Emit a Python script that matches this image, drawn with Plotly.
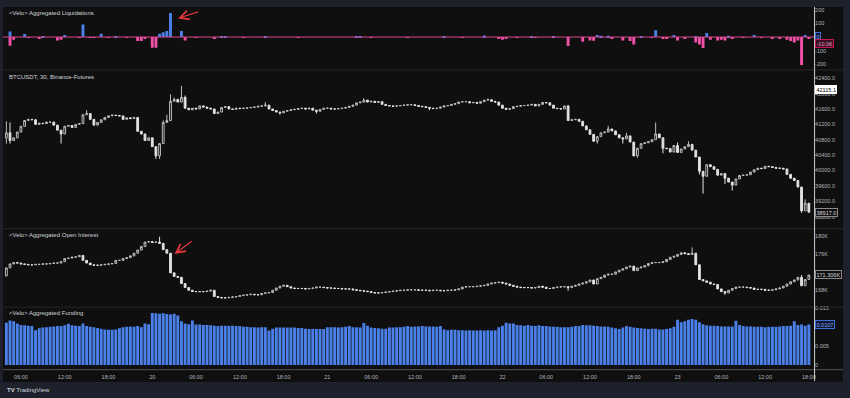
import pandas as pd
import plotly.graph_objects as go

W, H = 850, 398

# ---------------- data ----------------
times = pd.date_range("2024-01-19 04:00", periods=221, freq="30min")

price_close = [
    40980, 40780, 40850, 41000, 41150, 41300, 41330, 41320, 41200, 41230, 41220, 41260,
    41260, 41180, 41050, 40950, 41150, 41170, 41120, 41200, 41220, 41450, 41480, 41330,
    41180, 41250, 41320, 41380, 41420, 41440, 41430, 41420, 41330, 41370, 41350, 41380,
    41020, 40950, 40780, 40850, 40620, 40380, 40700, 41250, 41300, 41800, 41850, 41780,
    41900, 41620, 41580, 41620, 41600, 41680, 41650, 41620, 41600, 41480, 41520, 41640,
    41660, 41600, 41590, 41620, 41610, 41620, 41630, 41640, 41650, 41670, 41680, 41700,
    41600, 41560, 41520, 41500, 41540, 41560, 41580, 41590, 41610, 41620, 41600, 41620,
    41570, 41540, 41590, 41620, 41620, 41600, 41600, 41610, 41620, 41640, 41670, 41700,
    41760, 41780, 41830, 41780, 41800, 41770, 41790, 41720, 41690, 41680, 41670, 41680,
    41690, 41700, 41710, 41710, 41690, 41670, 41660, 41640, 41620, 41610, 41620, 41650,
    41680, 41690, 41720, 41740, 41780, 41790, 41790, 41760, 41770, 41750, 41790, 41830,
    41840, 41800, 41780, 41700, 41620, 41590, 41610, 41660, 41670, 41690, 41690, 41700,
    41720, 41680, 41720, 41770, 41760, 41700, 41620, 41610, 41600, 41680, 41300, 41320,
    41330, 41280, 41160, 41060, 40940, 40760, 40880, 40980, 41000, 41080, 41030, 40930,
    40850, 40820, 40900, 40740, 40380, 40580, 40700, 40720, 40750, 40800, 40950, 40850,
    40580, 40570, 40480, 40650, 40470, 40560, 40620, 40680, 40530, 40350, 39980, 39850,
    40150, 40100, 40030, 39880, 39920, 39800, 39700, 39620, 39780, 39870, 39880, 39890,
    39960, 40020, 40060, 40050, 40110, 40100, 40080, 40060, 40060, 40040, 39900, 39800,
    39740, 39570, 38950, 39150, 38917,
]
price_first_open = 40850
price_high_marks = {0: 41280, 1: 41250, 22: 41570, 43: 41300, 44: 41450, 45: 41980,
                    46: 41900, 48: 42200, 49: 41950, 71: 41780, 98: 41880, 132: 41870,
                    154: 41700, 165: 41160, 170: 40980, 178: 41250, 184: 40730,
                    187: 40760, 219: 39250}
price_low_marks = {0: 40700, 1: 40700, 15: 40700, 41: 40300, 42: 40300, 75: 41450,
                   85: 41480, 116: 41570, 162: 40700, 169: 40700, 173: 40330,
                   180: 40450, 185: 40480, 190: 39900, 191: 39400, 197: 39650,
                   199: 39480, 218: 38900}

oi_close = [
    172.9, 173.8, 174.1, 174.0, 173.8, 173.7, 173.6, 173.6, 173.7, 173.7, 173.8, 173.8,
    173.9, 174.0, 174.0, 174.3, 175.0, 175.1, 175.3, 175.4, 175.7, 174.6, 174.0, 173.6,
    173.5, 173.5, 173.6, 173.7, 173.8, 173.9, 174.6, 174.6, 175.0, 175.2, 175.6, 176.2,
    176.9, 177.7, 178.7, 178.8, 178.6, 178.7, 178.4, 177.0, 176.2, 171.8, 171.0, 170.8,
    169.4, 168.5, 167.9, 167.6, 167.6, 167.6, 167.6, 167.7, 167.9, 166.5, 166.3, 166.2,
    166.2, 166.3, 166.4, 166.5, 166.7, 166.8, 166.9, 167.0, 166.9, 166.9, 167.2, 167.3,
    167.4, 167.9, 168.4, 168.8, 169.0, 168.7, 168.4, 168.3, 168.3, 168.3, 168.2, 168.3,
    168.4, 168.6, 168.6, 168.5, 168.4, 168.4, 168.3, 168.3, 168.2, 168.2, 168.2, 168.0,
    167.9, 167.8, 167.7, 167.6, 167.4, 167.3, 167.3, 167.4, 167.5, 167.6, 167.7, 167.8,
    167.9, 167.9, 168.0, 168.0, 168.0, 167.9, 167.9, 167.9, 167.8, 167.9, 167.9, 167.8,
    167.8, 167.9, 167.9, 168.0, 168.2, 168.6, 168.7, 168.7, 168.7, 168.8, 168.9, 169.0,
    169.3, 169.5, 169.6, 169.7, 169.5, 169.3, 169.0, 168.8, 168.6, 168.5, 168.5, 168.5,
    168.4, 168.5, 168.8, 168.6, 168.3, 168.3, 168.5, 168.6, 168.7, 168.7, 168.5, 168.8,
    169.0, 169.3, 169.5, 169.8, 170.2, 169.3, 170.5, 170.8, 171.3, 171.5, 171.5, 172.0,
    172.4, 172.7, 173.1, 173.3, 172.3, 172.9, 173.1, 173.4, 173.9, 174.1, 174.1, 174.1,
    174.3, 174.8, 175.3, 175.5, 175.9, 176.3, 176.1, 175.9, 176.2, 173.6, 170.3, 170.0,
    169.7, 169.3, 169.2, 168.2, 167.6, 167.3, 167.9, 168.3, 168.6, 168.6, 168.6, 168.5,
    168.4, 168.1, 168.1, 168.1, 167.9, 167.9, 168.0, 168.2, 168.4, 168.8, 169.3, 169.8,
    170.2, 170.8, 168.9, 170.3, 171.306,
]
oi_first_open = 171.1
oi_high_marks = {42: 179.9, 188: 177.5, 218: 171.3}
oi_low_marks = {154: 167.8, 197: 166.9}

funding = [
    0.0112, 0.0118, 0.0116, 0.0110, 0.0106, 0.0105, 0.0104, 0.0103, 0.0092, 0.0097, 0.0099, 0.0100,
    0.0101, 0.0102, 0.0103, 0.0103, 0.0105, 0.0109, 0.0105, 0.0104, 0.0103, 0.0110, 0.0103, 0.0101,
    0.0100, 0.0098, 0.0096, 0.0094, 0.0093, 0.0093, 0.0094, 0.0097, 0.0100, 0.0101, 0.0102, 0.0101,
    0.0103, 0.0100, 0.0110, 0.0108, 0.0138, 0.0137, 0.0136, 0.0137, 0.0135, 0.0134, 0.0136, 0.0131,
    0.0116, 0.0110, 0.0108, 0.0118, 0.0107, 0.0107, 0.0106, 0.0106, 0.0105, 0.0104, 0.0103, 0.0104,
    0.0104, 0.0104, 0.0104, 0.0103, 0.0103, 0.0101, 0.0101, 0.0100, 0.0100, 0.0099, 0.0100, 0.0100,
    0.0091, 0.0096, 0.0099, 0.0099, 0.0099, 0.0099, 0.0099, 0.0099, 0.0098, 0.0098, 0.0096, 0.0095,
    0.0095, 0.0095, 0.0095, 0.0095, 0.0100, 0.0100, 0.0100, 0.0099, 0.0100, 0.0101, 0.0103, 0.0100,
    0.0100, 0.0099, 0.0111, 0.0104, 0.0099, 0.0098, 0.0097, 0.0096, 0.0096, 0.0099, 0.0099, 0.0100,
    0.0100, 0.0101, 0.0103, 0.0101, 0.0102, 0.0102, 0.0103, 0.0102, 0.0102, 0.0102, 0.0101, 0.0103,
    0.0094, 0.0092, 0.0093, 0.0093, 0.0092, 0.0092, 0.0091, 0.0092, 0.0091, 0.0091, 0.0092, 0.0091,
    0.0092, 0.0091, 0.0092, 0.0100, 0.0104, 0.0112, 0.0110, 0.0110, 0.0106, 0.0105, 0.0104, 0.0106,
    0.0104, 0.0103, 0.0105, 0.0103, 0.0103, 0.0102, 0.0101, 0.0101, 0.0100, 0.0100, 0.0100, 0.0101,
    0.0103, 0.0103, 0.0106, 0.0105, 0.0105, 0.0104, 0.0103, 0.0102, 0.0102, 0.0101, 0.0099, 0.0097,
    0.0095, 0.0099, 0.0103, 0.0101, 0.0099, 0.0098, 0.0097, 0.0096, 0.0095, 0.0096, 0.0096, 0.0094,
    0.0094, 0.0095, 0.0097, 0.0101, 0.0120, 0.0113, 0.0116, 0.0120, 0.0122, 0.0120, 0.0113, 0.0108,
    0.0105, 0.0104, 0.0104, 0.0103, 0.0102, 0.0102, 0.0102, 0.0102, 0.0117, 0.0106, 0.0103, 0.0102,
    0.0102, 0.0101, 0.0101, 0.0101, 0.0100, 0.0101, 0.0101, 0.0101, 0.0102, 0.0103, 0.0103, 0.0104,
    0.0116, 0.0106, 0.0107, 0.0104, 0.0107,
]

short_liq = [
    0, 40, 0, 0, 0, 22, 0, 0, 0, 0, 4, 0,
    0, 0, 0, 0, 15, 0, 0, 0, 0, 92, 0, 0,
    0, 0, 25, 0, 0, 0, 3, 0, 0, 0, 0, 0,
    0, 0, 0, 0, 0, 0, 25, 35, 45, 177, 0, 0,
    44, 0, 0, 0, 0, 0, 0, 0, 0, 0, 0, 8,
    3, 0, 0, 0, 0, 0, 0, 0, 0, 0, 0, 6,
    0, 0, 0, 0, 0, 0, 0, 0, 0, 0, 0, 0,
    0, 0, 0, 0, 0, 0, 0, 0, 0, 0, 0, 0,
    5, 4, 0, 0, 0, 0, 0, 0, 0, 0, 0, 0,
    0, 0, 0, 0, 0, 0, 0, 0, 0, 0, 0, 0,
    3, 0, 0, 0, 0, 0, 0, 0, 0, 0, 0, 12,
    0, 0, 0, 0, 0, 0, 0, 0, 0, 0, 0, 0,
    5, 0, 0, 0, 0, 0, 3, 0, 0, 0, 0, 0,
    0, 0, 0, 0, 0, 0, 15, 10, 0, 10, 0, 0,
    0, 0, 0, 0, 0, 0, 8, 0, 0, 0, 50, 0,
    0, 0, 0, 15, 0, 0, 0, 0, 0, 8, 0, 0,
    30, 0, 0, 0, 0, 0, 10, 0, 0, 0, 0, 0,
    0, 15, 0, 0, 0, 0, 0, 0, 0, 0, 0, 0,
    0, 0, 0, 15, 0,
]
long_liq = [
    0, -65, -20, 0, 0, 0, -5, 0, 0, -15, 0, 0,
    0, 0, -25, -20, 0, 0, 0, 0, -4, 0, 0, -5,
    -5, 0, 0, 0, -3, 0, 0, 0, 0, -6, 0, 0,
    -30, -30, -15, 0, -78, -78, 0, 0, 0, 0, 0, 0,
    0, -25, 0, 0, -4, 0, 0, 0, 0, -10, 0, 0,
    0, 0, 0, 0, 0, -3, 0, 0, 0, 0, 0, 0,
    0, 0, 0, 0, 0, 0, 0, 0, -3, 0, 0, 0,
    0, 0, 0, 0, 0, 0, 0, 0, 0, 0, 0, 0,
    0, 0, 0, 0, -3, 0, 0, 0, 0, 0, 0, 0,
    0, 0, -3, 0, 0, 0, 0, 0, 0, 0, 0, 0,
    0, 0, 0, 0, 0, -4, 0, 0, 0, 0, 0, 0,
    0, 0, 0, -15, -20, -15, 0, 0, -4, 0, 0, 0,
    0, -3, 0, 0, 0, 0, -5, 0, 0, 0, -66, 0,
    0, 0, -35, 0, -25, -28, 0, 0, 0, 0, -8, 0,
    0, -25, 0, -30, -55, 0, 0, 0, 0, -6, 0, 0,
    -12, -15, 0, 0, -25, 0, -8, 0, 0, -40, -55, -80,
    0, -20, 0, -25, -20, -25, 0, -15, 0, 0, -6, 0,
    0, 0, 0, -5, 0, 0, -8, 0, -10, 0, -20, -30,
    -40, -25, -205, 0, -10.06,
]

time_tickvals = pd.date_range("2024-01-19 06:00", "2024-01-23 18:00", freq="6h")
time_ticktext = ["06:00", "12:00", "18:00", "20", "06:00", "12:00", "18:00", "21",
                 "06:00", "12:00", "18:00", "22", "06:00", "12:00", "18:00", "23",
                 "06:00", "12:00", "18:00"]

liq_ticks = [200, 100, 0, -100, -200]
price_ticks = [42400, 42000, 41600, 41200, 40800, 40400, 40000, 39600, 39200, 38800]
oi_ticks = [180, 176, 168]
funding_ticks = [0.015, 0.005, 0]
funding_ticktext = ["0.015", "0.005", "0"]

titles = ["<Velo> Aggregated Liquidations", "BTCUSDT, 30, Binance-Futures",
          "<Velo> Aggregated Open Interest", "<Velo> Aggregated Funding"]


# ---------------- helpers ----------------
def X(px):
    return px / W


def Y(py):
    return 1 - py / H


def ohlc(closes, first_open, hi_marks, lo_marks):
    opens = [first_open] + closes[:-1]
    highs, lows = [], []
    for i, (o, c) in enumerate(zip(opens, closes)):
        highs.append(max(hi_marks.get(i, max(o, c)), o, c))
        lows.append(min(lo_marks.get(i, min(o, c)), o, c))
    return opens, highs, lows


p_open, p_high, p_low = ohlc(price_close, price_first_open, price_high_marks, price_low_marks)
o_open, o_high, o_low = ohlc(oi_close, oi_first_open, oi_high_marks, oi_low_marks)

BG = "#0f0f0f"
OUTER = "#1e212b"
TXT = "#b2b5be"
FONT = "Liberation Sans, Arial, sans-serif"
BLUE = "#4a80e8"
PINK = "#f050a8"

inc = dict(line=dict(color="#bdbdbd", width=1), fillcolor=BG)
dec = dict(line=dict(color="#e2e2e2", width=1), fillcolor="#e2e2e2")

fig = go.Figure()
fig.add_trace(go.Bar(x=times, y=short_liq, marker_color=BLUE, marker_line_width=0,
                     xaxis="x", yaxis="y", showlegend=False))
fig.add_trace(go.Bar(x=times, y=long_liq, marker_color=PINK, marker_line_width=0,
                     xaxis="x", yaxis="y", showlegend=False))
fig.add_trace(go.Candlestick(x=times, open=p_open, high=p_high, low=p_low, close=price_close,
                             increasing=inc, decreasing=dec, xaxis="x", yaxis="y2",
                             showlegend=False))
fig.add_trace(go.Candlestick(x=times, open=o_open, high=o_high, low=o_low, close=oi_close,
                             increasing=inc, decreasing=dec, xaxis="x", yaxis="y3",
                             showlegend=False))
fig.add_trace(go.Bar(x=times, y=funding, marker_color=BLUE, marker_line_width=0,
                     xaxis="x", yaxis="y4", showlegend=False))

yax_common = dict(side="right", anchor="x", showgrid=False, zeroline=False, showline=False,
                  ticks="", tickfont=dict(size=5.5, color=TXT, family=FONT), fixedrange=True)

fig.update_layout(
    width=W, height=H, autosize=False,
    margin=dict(l=0, r=0, t=0, b=0),
    paper_bgcolor=OUTER, plot_bgcolor="rgba(0,0,0,0)",
    barmode="overlay", bargap=0.2,
    font=dict(family=FONT, color=TXT, size=6),
    xaxis=dict(domain=[X(3), X(816)], anchor="y4", type="date",
               range=["2024-01-19 03:32:18", "2024-01-23 18:43:00"],
               showgrid=False, zeroline=False, showline=False, ticks="",
               tickmode="array", tickvals=list(time_tickvals), ticktext=time_ticktext,
               tickfont=dict(size=5.5, color=TXT, family=FONT), ticklabelstandoff=5,
               rangeslider=dict(visible=False), fixedrange=True),
    yaxis=dict(domain=[Y(68), Y(5)], range=[-238.7, 221.2], tickmode="array",
               tickvals=liq_ticks, ticktext=[str(v) for v in liq_ticks], **yax_common),
    yaxis2=dict(domain=[Y(228), Y(69)], range=[38498, 42601], tickmode="array",
                tickvals=price_ticks, ticktext=[f"{v:.1f}" for v in price_ticks], **yax_common),
    yaxis3=dict(domain=[Y(307), Y(229)], range=[164.22, 181.56], tickmode="array",
                tickvals=oi_ticks, ticktext=[f"{v}K" for v in oi_ticks], **yax_common),
    yaxis4=dict(domain=[Y(368), Y(308)], range=[-0.0006, 0.01518], tickmode="array",
                tickvals=funding_ticks, ticktext=funding_ticktext, **yax_common),
)

shapes = [
    dict(type="rect", xref="paper", yref="paper", x0=X(3), x1=X(845), y0=Y(383), y1=Y(5),
         fillcolor=BG, line_width=0, layer="below"),
]
for py in (68.5, 228.5, 307.5):
    shapes.append(dict(type="line", xref="paper", yref="paper", x0=X(3), x1=X(845),
                       y0=Y(py), y1=Y(py), line=dict(color="#262626", width=1)))
shapes.append(dict(type="line", xref="paper", yref="paper", x0=X(3), x1=X(845),
                   y0=Y(370.5), y1=Y(370.5), line=dict(color="#555555", width=1)))
shapes.append(dict(type="line", xref="paper", yref="y", x0=X(3), x1=X(816), y0=0, y1=0,
                   line=dict(color="#d9468f", width=1)))
shapes.append(dict(type="line", xref="paper", yref="paper", x0=X(816.5), x1=X(816.5),
                   y0=Y(382), y1=Y(5), line=dict(color="#cfcfcf", width=1)))
fig.update_layout(shapes=shapes)

ann = []
for t, py in zip(titles, (11, 76, 235, 313)):
    ann.append(dict(text=t.replace("<", "&lt;").replace(">", "&gt;"), xref="paper", yref="paper",
                    x=X(7), y=Y(py), xanchor="left", yanchor="middle", showarrow=False,
                    font=dict(size=6, color="#d1d4dc", family=FONT)))


def box(text, py, bg, border, color):
    return dict(text=text, xref="paper", yref="paper", x=X(817), y=Y(py), xanchor="left",
                yanchor="middle", showarrow=False, bgcolor=bg, bordercolor=border,
                borderwidth=1, borderpad=0.5, font=dict(size=5.5, color=color, family=FONT))


ann += [
    box("0", 34.5, "#0d1530", "#3d6fd6", "#8fb0ff"),
    box("-10.06", 42, "#3a0f22", "#c2185b", "#e8a0c0"),
    box("42115.1", 88.5, "#ffffff", "#ffffff", "#000000"),
    box("38917.0", 212, BG, "#8a8a8a", "#d8d8d8"),
    box("171.306K", 274.5, BG, "#8a8a8a", "#d8d8d8"),
    box("0.0107", 325, "#0d1530", "#3d6fd6", "#8fb0ff"),
]
# red arrows
for hx, hy, tx, ty in ((178.5, 16.5, 200, 9.5), (175, 254, 193.5, 240)):
    ann.append(dict(text="", xref="paper", yref="paper", x=X(hx), y=Y(hy),
                    ax=tx - hx, ay=ty - hy, axref="pixel", ayref="pixel", showarrow=True,
                    arrowhead=5, arrowsize=1.6, arrowwidth=1.1, arrowcolor="#e8383d"))
ann.append(dict(text="<b>TV</b> TradingView", xref="paper", yref="paper", x=X(5), y=Y(390.5),
                xanchor="left", yanchor="middle", showarrow=False,
                font=dict(size=6, color="#d1d4dc", family=FONT)))
fig.update_layout(annotations=ann)

fig.write_html("out.html", config=dict(displayModeBar=False),
               post_script="document.body.style.margin='0px';document.body.style.overflow='hidden';")
